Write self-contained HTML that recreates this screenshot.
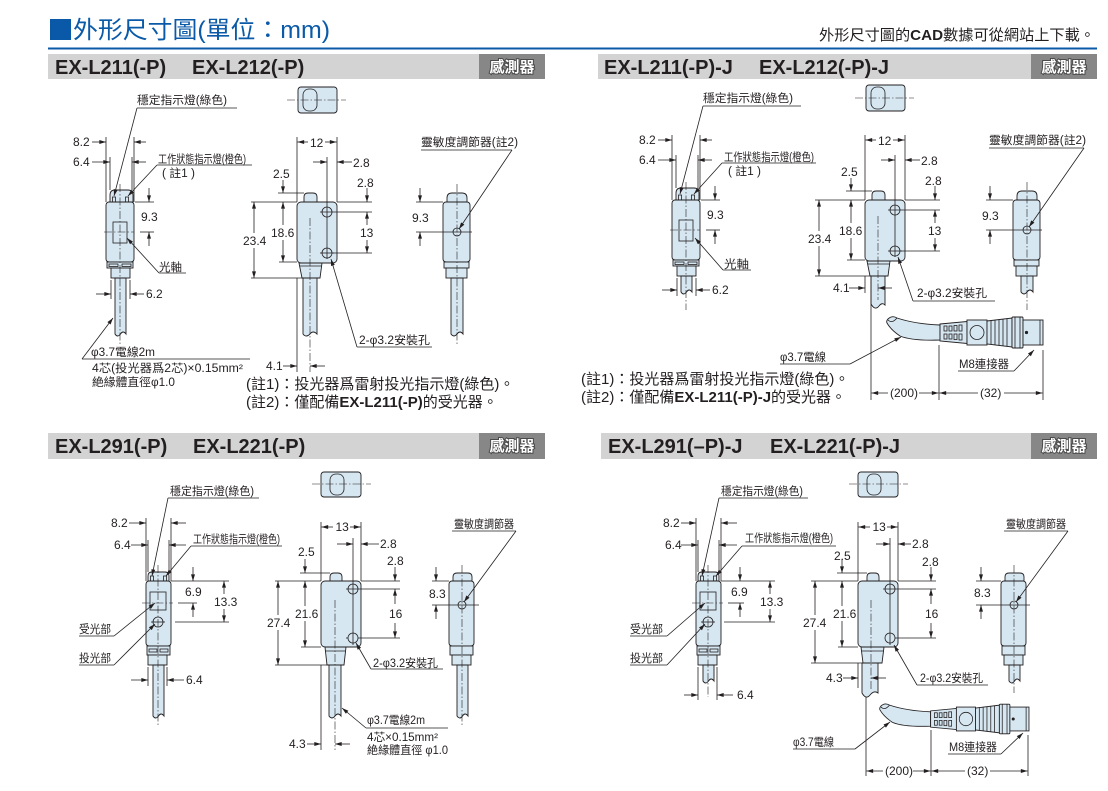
<!DOCTYPE html>
<html><head><meta charset="utf-8">
<style>
html,body{margin:0;padding:0;background:#fff;}
svg{display:block;}
text{font-family:"Liberation Sans","Noto Sans CJK TC",sans-serif;fill:#231f20;}
.n{font-size:12px;}
.k{font-size:11.5px;}
.l{stroke:#231f20;stroke-width:0.8;fill:none;}
.ar{marker-end:url(#a);}
.b{fill:#d6e7f1;stroke:#231f20;stroke-width:0.9;}
.c{stroke:#231f20;stroke-width:0.6;fill:none;stroke-dasharray:8 2 1.5 2;}
.hd{font-size:20px;font-weight:bold;}
.lb{font-size:15px;font-weight:bold;fill:#fff;stroke:#4a4a4a;stroke-width:2;paint-order:stroke;}
</style></head><body>
<svg width="1108" height="791" viewBox="0 0 1108 791" xmlns="http://www.w3.org/2000/svg">
<defs>
<marker id="a" viewBox="0 0 10 6" refX="10" refY="3" markerWidth="8" markerHeight="4" orient="auto" markerUnits="userSpaceOnUse"><path d="M0,0L10,3L0,6z" fill="#231f20"/></marker>
</defs>

<!-- ===== Page header ===== -->
<rect x="50" y="19" width="21" height="21" fill="#0a58a8"/>
<text x="73" y="38" font-size="24" style="fill:#0a5aa8" textLength="257" lengthAdjust="spacingAndGlyphs">外形尺寸圖(單位：mm)</text>
<text x="819" y="40" font-size="15" textLength="276" lengthAdjust="spacingAndGlyphs">外形尺寸圖的<tspan font-weight="bold">CAD</tspan>數據可從網站上下載。</text>
<rect x="48" y="47.5" width="1049" height="2" fill="#0a5aa8"/>

<!-- ===== Section headers ===== -->
<rect x="48" y="54" width="497" height="25" fill="#d3d3d3"/>
<rect x="479" y="54" width="66" height="25" fill="#878787"/>
<text class="hd" x="55" y="74">EX-L211(-P)</text>
<text class="hd" x="192" y="74">EX-L212(-P)</text>
<text class="lb" x="512" y="72" text-anchor="middle">感測器</text>

<rect x="598" y="54" width="499" height="25" fill="#d3d3d3"/>
<rect x="1031" y="54" width="66" height="25" fill="#878787"/>
<text class="hd" x="604" y="74">EX-L211(-P)-J</text>
<text class="hd" x="759" y="74">EX-L212(-P)-J</text>
<text class="lb" x="1064" y="72" text-anchor="middle">感測器</text>

<rect x="48" y="433" width="497" height="26" fill="#d3d3d3"/>
<rect x="479" y="433" width="66" height="26" fill="#878787"/>
<text class="hd" x="55" y="453">EX-L291(-P)</text>
<text class="hd" x="193" y="453">EX-L221(-P)</text>
<text class="lb" x="512" y="451" text-anchor="middle">感測器</text>

<rect x="601" y="433" width="496" height="26" fill="#d3d3d3"/>
<rect x="1031" y="433" width="66" height="26" fill="#878787"/>
<text class="hd" x="608" y="453">EX-L291(–P)-J</text>
<text class="hd" x="770" y="453">EX-L221(-P)-J</text>
<text class="lb" x="1064" y="451" text-anchor="middle">感測器</text>

<!-- ================= PANEL 1 ================= -->
<!-- left sensor -->
<path class="b" d="M110,202V195Q110,190 115,190H128Q133,190 133,195V202Z"/>
<rect class="l" x="112.5" y="197" width="3" height="5"/>
<rect class="l" x="125.5" y="197" width="3" height="5"/>
<rect class="b" x="106" y="202" width="28" height="60" rx="3"/>
<rect class="l" x="113" y="222" width="14" height="21"/>
<rect class="b" x="107" y="262" width="26" height="6"/>
<rect class="l" x="109" y="264" width="9" height="2.5"/>
<rect class="l" x="122" y="264" width="9" height="2.5"/>
<rect class="b" x="111" y="268" width="19" height="10"/>
<path class="b" d="M115,278V334Q117.5,338 120.5,334Q123,330 126,334V278Z"/>
<line class="c" x1="120" y1="184" x2="120" y2="345"/>
<line class="c" x1="104" y1="232" x2="134" y2="232"/>
<line class="l" x1="106" y1="137" x2="106" y2="202"/>
<line class="l" x1="134" y1="137" x2="134" y2="202"/>
<line class="l ar" x1="92" y1="142" x2="106" y2="142"/>
<line class="l ar" x1="146" y1="142" x2="134" y2="142"/>
<text class="n" x="73" y="146">8.2</text>
<line class="l" x1="110" y1="157" x2="110" y2="190"/>
<line class="l" x1="132" y1="157" x2="132" y2="190"/>
<line class="l ar" x1="92" y1="162" x2="110" y2="162"/>
<line class="l ar" x1="146" y1="162" x2="132" y2="162"/>
<text class="n" x="73" y="166">6.4</text>
<line class="l" x1="135" y1="202" x2="154" y2="202"/>
<line class="l" x1="140" y1="232" x2="154" y2="232"/>
<line class="l ar" x1="149" y1="188" x2="149" y2="202"/>
<line class="l ar" x1="149" y1="246" x2="149" y2="232"/>
<text class="n" x="141" y="221">9.3</text>
<line class="l" x1="111" y1="280" x2="111" y2="299"/>
<line class="l" x1="130" y1="280" x2="130" y2="299"/>
<line class="l ar" x1="96" y1="294" x2="111" y2="294"/>
<line class="l ar" x1="144" y1="294" x2="130" y2="294"/>
<text class="n" x="146" y="298">6.2</text>
<text class="k" x="137" y="104" textLength="90" lengthAdjust="spacingAndGlyphs">穩定指示燈(綠色)</text>
<line class="l" x1="137" y1="108" x2="237" y2="108"/>
<line class="l ar" x1="137" y1="108" x2="114" y2="196"/>
<text class="k" x="158" y="163" font-size="11" textLength="88" lengthAdjust="spacingAndGlyphs">工作狀態指示燈(橙色)</text>
<text class="k" x="162" y="177" textLength="33" lengthAdjust="spacingAndGlyphs">( 註1 )</text>
<line class="l" x1="157" y1="165" x2="252" y2="165"/>
<line class="l ar" x1="157" y1="165" x2="128" y2="196"/>
<text class="k" x="159" y="271" textLength="23" lengthAdjust="spacingAndGlyphs">光軸</text>
<line class="l" x1="159" y1="273" x2="186" y2="273"/>
<line class="l ar" x1="159" y1="273" x2="127" y2="238"/>
<text class="k" x="91" y="356" textLength="64" lengthAdjust="spacingAndGlyphs">φ3.7電線2m</text>
<line class="l" x1="82" y1="359" x2="250" y2="359"/>
<line class="l ar" x1="82" y1="359" x2="113" y2="318"/>
<text class="k" x="92" y="372" textLength="151" lengthAdjust="spacingAndGlyphs">4芯(投光器爲2芯)×0.15mm²</text>
<text class="k" x="92" y="386" textLength="83" lengthAdjust="spacingAndGlyphs">絶緣體直徑φ1.0</text>

<!-- front view -->
<rect class="b" x="298" y="87" width="39" height="26" rx="3"/>
<rect class="l" x="303" y="89" width="14" height="22" rx="6"/>
<line class="c" x1="287" y1="100" x2="346" y2="100"/>
<path class="b" d="M304,202V197Q304,193 308,193H313Q317,193 317,197V202Z"/>
<rect class="b" x="297" y="202" width="40" height="61" rx="4"/>
<circle class="l" cx="327" cy="212" r="5"/>
<circle class="l" cx="327" cy="253" r="5"/>
<line class="l" x1="327" y1="157" x2="327" y2="259"/>
<line class="l" x1="320" y1="253" x2="334" y2="253"/>
<path class="b" d="M299,263H322L320,278H302Z"/>
<line class="l" x1="299.5" y1="266" x2="321.5" y2="266"/>
<path class="b" d="M303,278V334Q306,338 310,334Q313,330 317,334V278Z"/>
<line class="c" x1="310" y1="218" x2="310" y2="372"/>
<line class="l" x1="297" y1="137" x2="297" y2="202"/>
<line class="l" x1="337" y1="137" x2="337" y2="202"/>
<line class="l ar" x1="308" y1="142" x2="297.5" y2="142"/>
<line class="l ar" x1="325" y1="142" x2="336.5" y2="142"/>
<text class="n" x="310" y="147">12</text>
<line class="l ar" x1="313" y1="162" x2="327" y2="162"/>
<line class="l ar" x1="352" y1="162" x2="337" y2="162"/>
<text class="n" x="353" y="167">2.8</text>
<line class="l ar" x1="283" y1="180" x2="283" y2="193"/>
<line class="l" x1="278" y1="193" x2="304" y2="193"/>
<text class="n" x="273" y="178">2.5</text>
<line class="l" x1="251" y1="202" x2="297" y2="202"/>
<line class="l ar" x1="283" y1="225" x2="283" y2="202"/>
<line class="l ar" x1="283" y1="240" x2="283" y2="262"/>
<line class="l" x1="279" y1="262" x2="297" y2="262"/>
<text class="n" x="271" y="237">18.6</text>
<line class="l ar" x1="254" y1="233" x2="254" y2="202"/>
<line class="l ar" x1="254" y1="248" x2="254" y2="278"/>
<line class="l" x1="251" y1="278" x2="302" y2="278"/>
<text class="n" x="243" y="245">23.4</text>
<line class="l" x1="337" y1="202" x2="372" y2="202"/>
<line class="l ar" x1="367" y1="188" x2="367" y2="202"/>
<text class="n" x="357" y="187">2.8</text>
<line class="l" x1="320" y1="212" x2="372" y2="212"/>
<line class="l" x1="333" y1="253" x2="372" y2="253"/>
<line class="l ar" x1="367" y1="225" x2="367" y2="212"/>
<line class="l ar" x1="367" y1="240" x2="367" y2="253"/>
<text class="n" x="360" y="237">13</text>
<line class="l" x1="297" y1="278" x2="297" y2="372"/>
<line class="l ar" x1="283" y1="366" x2="297" y2="366"/>
<line class="l ar" x1="325" y1="366" x2="310" y2="366"/>
<text class="n" x="266" y="370">4.1</text>
<text class="k" x="359" y="344" textLength="71" lengthAdjust="spacingAndGlyphs">2-φ3.2安裝孔</text>
<line class="l" x1="357" y1="347" x2="432" y2="347"/>
<line class="l ar" x1="357" y1="347" x2="331" y2="259"/>

<!-- side view -->
<path class="b" d="M447,202V198Q447,193 452,193H462Q467,193 467,198V202Z"/>
<rect class="b" x="443" y="202" width="27" height="60" rx="3"/>
<rect class="b" x="444" y="262" width="25" height="6"/>
<rect class="b" x="446" y="268" width="21" height="10"/>
<path class="b" d="M451,278V334Q454,338 457,334Q460,330 463,334V278Z"/>
<circle class="l" cx="457" cy="232" r="4"/>
<line class="c" x1="457" y1="184" x2="457" y2="345"/>
<line class="l" x1="416" y1="202" x2="443" y2="202"/>
<line class="l" x1="416" y1="232" x2="472" y2="232"/>
<line class="l ar" x1="420" y1="188" x2="420" y2="202"/>
<line class="l ar" x1="420" y1="246" x2="420" y2="232"/>
<text class="n" x="412" y="222">9.3</text>
<text class="k" x="421" y="146" textLength="97" lengthAdjust="spacingAndGlyphs">靈敏度調節器(註2)</text>
<line class="l" x1="421" y1="150" x2="512" y2="150"/>
<line class="l ar" x1="512" y1="150" x2="459" y2="229"/>

<text x="246" y="389" font-size="15">(註1)：投光器爲雷射投光指示燈(綠色)。</text>
<text x="246" y="407" font-size="15">(註2)：僅配備<tspan font-weight="bold">EX-L211(-P)</tspan>的受光器。</text>

<!-- ================= PANEL 2 ================= -->
<g transform="translate(566,-2)">
<path class="b" d="M110,202V195Q110,190 115,190H128Q133,190 133,195V202Z"/>
<rect class="l" x="112.5" y="197" width="3" height="5"/>
<rect class="l" x="125.5" y="197" width="3" height="5"/>
<rect class="b" x="106" y="202" width="28" height="60" rx="3"/>
<rect class="l" x="113" y="222" width="14" height="21"/>
<rect class="b" x="107" y="262" width="26" height="6"/>
<rect class="l" x="109" y="264" width="9" height="2.5"/>
<rect class="l" x="122" y="264" width="9" height="2.5"/>
<rect class="b" x="111" y="268" width="19" height="10"/>
<path class="b" d="M115,278V294Q117.5,298 120.5,294Q123,290 126,294V278Z"/>
<line class="c" x1="120" y1="184" x2="120" y2="312"/>
<line class="c" x1="104" y1="232" x2="134" y2="232"/>
<line class="l" x1="106" y1="137" x2="106" y2="202"/>
<line class="l" x1="134" y1="137" x2="134" y2="202"/>
<line class="l ar" x1="92" y1="142" x2="106" y2="142"/>
<line class="l ar" x1="146" y1="142" x2="134" y2="142"/>
<text class="n" x="73" y="146">8.2</text>
<line class="l" x1="110" y1="157" x2="110" y2="190"/>
<line class="l" x1="132" y1="157" x2="132" y2="190"/>
<line class="l ar" x1="92" y1="162" x2="110" y2="162"/>
<line class="l ar" x1="146" y1="162" x2="132" y2="162"/>
<text class="n" x="73" y="166">6.4</text>
<line class="l" x1="135" y1="202" x2="154" y2="202"/>
<line class="l" x1="140" y1="232" x2="154" y2="232"/>
<line class="l ar" x1="149" y1="188" x2="149" y2="202"/>
<line class="l ar" x1="149" y1="246" x2="149" y2="232"/>
<text class="n" x="141" y="221">9.3</text>
<line class="l" x1="111" y1="280" x2="111" y2="298"/>
<line class="l" x1="130" y1="280" x2="130" y2="298"/>
<line class="l ar" x1="96" y1="292" x2="111" y2="292"/>
<line class="l ar" x1="144" y1="292" x2="130" y2="292"/>
<text class="n" x="146" y="296">6.2</text>
<text class="k" x="137" y="104" textLength="90" lengthAdjust="spacingAndGlyphs">穩定指示燈(綠色)</text>
<line class="l" x1="137" y1="108" x2="235" y2="108"/>
<line class="l ar" x1="137" y1="108" x2="114" y2="196"/>
<text class="k" x="158" y="163" font-size="11" textLength="90" lengthAdjust="spacingAndGlyphs">工作狀態指示燈(橙色)</text>
<text class="k" x="162" y="177" textLength="33" lengthAdjust="spacingAndGlyphs">( 註1 )</text>
<line class="l" x1="156" y1="165" x2="250" y2="165"/>
<line class="l ar" x1="156" y1="165" x2="128" y2="196"/>
<text class="k" x="158" y="270" textLength="25" lengthAdjust="spacingAndGlyphs">光軸</text>
<line class="l" x1="157" y1="272" x2="185" y2="272"/>
<line class="l ar" x1="157" y1="272" x2="129" y2="240"/>
</g>

<g transform="translate(568,-2)">
<rect class="b" x="298" y="87" width="39" height="26" rx="3"/>
<rect class="l" x="303" y="89" width="14" height="22" rx="6"/>
<line class="c" x1="287" y1="100" x2="346" y2="100"/>
<path class="b" d="M304,202V197Q304,193 308,193H313Q317,193 317,197V202Z"/>
<rect class="b" x="297" y="202" width="40" height="61" rx="4"/>
<circle class="l" cx="327" cy="212" r="5"/>
<circle class="l" cx="327" cy="253" r="5"/>
<line class="l" x1="327" y1="157" x2="327" y2="259"/>
<line class="l" x1="320" y1="253" x2="334" y2="253"/>
<path class="b" d="M299,263H322L320,278H302Z"/>
<line class="l" x1="299.5" y1="266" x2="321.5" y2="266"/>
<line class="l" x1="297" y1="137" x2="297" y2="202"/>
<line class="l" x1="337" y1="137" x2="337" y2="202"/>
<line class="l ar" x1="308" y1="142" x2="297.5" y2="142"/>
<line class="l ar" x1="325" y1="142" x2="336.5" y2="142"/>
<text class="n" x="310" y="147">12</text>
<line class="l ar" x1="313" y1="162" x2="327" y2="162"/>
<line class="l ar" x1="352" y1="162" x2="337" y2="162"/>
<text class="n" x="353" y="167">2.8</text>
<line class="l ar" x1="283" y1="180" x2="283" y2="193"/>
<line class="l" x1="278" y1="193" x2="304" y2="193"/>
<text class="n" x="273" y="178">2.5</text>
<line class="l" x1="247" y1="202" x2="297" y2="202"/>
<line class="l ar" x1="283" y1="225" x2="283" y2="202"/>
<line class="l ar" x1="283" y1="240" x2="283" y2="262"/>
<line class="l" x1="279" y1="262" x2="297" y2="262"/>
<text class="n" x="271" y="237">18.6</text>
<line class="l ar" x1="251" y1="233" x2="251" y2="202"/>
<line class="l ar" x1="251" y1="248" x2="251" y2="278"/>
<line class="l" x1="247" y1="278" x2="302" y2="278"/>
<text class="n" x="240" y="245">23.4</text>
<line class="l" x1="337" y1="202" x2="372" y2="202"/>
<line class="l ar" x1="367" y1="188" x2="367" y2="202"/>
<text class="n" x="357" y="187">2.8</text>
<line class="l" x1="320" y1="212" x2="372" y2="212"/>
<line class="l" x1="333" y1="253" x2="372" y2="253"/>
<line class="l ar" x1="367" y1="225" x2="367" y2="212"/>
<line class="l ar" x1="367" y1="240" x2="367" y2="253"/>
<text class="n" x="360" y="237">13</text>
</g>
<path class="b" d="M871,276V304Q875,311 879,306Q882,302 885,305V276Z"/>
<line class="c" x1="878" y1="216" x2="878" y2="300"/>
<line class="l" x1="871" y1="276" x2="871" y2="400"/>
<line class="l" x1="865" y1="276" x2="865" y2="293"/>
<line class="l ar" x1="849" y1="288" x2="865" y2="288"/>
<line class="l ar" x1="892" y1="288" x2="878" y2="288"/>
<text class="n" x="833" y="292">4.1</text>
<text class="k" x="917" y="297" textLength="70" lengthAdjust="spacingAndGlyphs">2-φ3.2安裝孔</text>
<line class="l" x1="913" y1="301" x2="995" y2="301"/>
<line class="l ar" x1="913" y1="301" x2="898" y2="257"/>

<!-- connector P2 -->
<g id="conn">
<path class="b" d="M888,319Q892,315 897,318Q915,324 940,325L940,340Q912,341 900,336Q891,330 887,323Q886,321 888,319Z"/>
<path class="l" d="M888,320Q892,324 897,318"/>
<path class="b" d="M940,324L967,321.5L967,343.5L940,341Z"/>
<rect class="l" x="944" y="326" width="3" height="5"/>
<rect class="l" x="949" y="326" width="3" height="5"/>
<rect class="l" x="954" y="325.5" width="3" height="5.5"/>
<rect class="l" x="959" y="325" width="3" height="6"/>
<rect class="l" x="944" y="334" width="3" height="5"/>
<rect class="l" x="949" y="334" width="3" height="5"/>
<rect class="l" x="954" y="334" width="3" height="5.5"/>
<rect class="l" x="959" y="334" width="3" height="6"/>
<rect class="b" x="967" y="320" width="20" height="25"/>
<circle class="l" cx="977" cy="332.5" r="7"/>
<path class="b" d="M987,321L1012,318L1012,347L987,344Z"/>
<line class="l" x1="991" y1="320.5" x2="991" y2="344.5"/>
<line class="l" x1="995" y1="320" x2="995" y2="345"/>
<line class="l" x1="999" y1="319.5" x2="999" y2="345.5"/>
<line class="l" x1="1003" y1="319" x2="1003" y2="346"/>
<line class="l" x1="1007" y1="318.5" x2="1007" y2="346.5"/>
<rect class="b" x="1012" y="317" width="11" height="31" rx="1"/>
<line class="l" x1="1015" y1="317" x2="1015" y2="348"/>
<line class="l" x1="1020" y1="317" x2="1020" y2="348"/>
<rect class="b" x="1023" y="320" width="20" height="25"/>
<line class="l" x1="1040" y1="320" x2="1040" y2="345"/>
<circle cx="1026.5" cy="332.5" r="1.6" fill="#231f20"/>
</g>
<text class="k" x="780" y="361" textLength="46" lengthAdjust="spacingAndGlyphs">φ3.7電線</text>
<line class="l" x1="780" y1="364" x2="850" y2="364"/>
<line class="l ar" x1="850" y1="364" x2="901" y2="337"/>
<text class="k" x="959" y="368" textLength="50" lengthAdjust="spacingAndGlyphs">M8連接器</text>
<line class="l" x1="958" y1="371" x2="1014" y2="371"/>
<line class="l ar" x1="1014" y1="371" x2="1034" y2="350"/>
<line class="l" x1="939" y1="345" x2="939" y2="400"/>
<line class="l" x1="1043" y1="350" x2="1043" y2="400"/>
<line class="l ar" x1="888" y1="393" x2="871.5" y2="393"/>
<line class="l ar" x1="919" y1="393" x2="938.5" y2="393"/>
<line class="l ar" x1="978" y1="393" x2="939.5" y2="393"/>
<line class="l ar" x1="1004" y1="393" x2="1042.5" y2="393"/>
<text class="n" x="890" y="397">(200)</text>
<text class="n" x="980" y="397">(32)</text>

<g transform="translate(570,-2)">
<path class="b" d="M447,202V198Q447,193 452,193H462Q467,193 467,198V202Z"/>
<rect class="b" x="443" y="202" width="27" height="60" rx="3"/>
<rect class="b" x="444" y="262" width="25" height="6"/>
<rect class="b" x="446" y="268" width="21" height="10"/>
<path class="b" d="M451,278V294Q454,298 457,294Q460,290 463,294V278Z"/>
<circle class="l" cx="457" cy="232" r="4"/>
<line class="c" x1="457" y1="184" x2="457" y2="312"/>
<line class="l" x1="416" y1="202" x2="443" y2="202"/>
<line class="l" x1="416" y1="232" x2="472" y2="232"/>
<line class="l ar" x1="420" y1="188" x2="420" y2="202"/>
<line class="l ar" x1="420" y1="246" x2="420" y2="232"/>
<text class="n" x="412" y="222">9.3</text>
<text class="k" x="419" y="146" textLength="97" lengthAdjust="spacingAndGlyphs">靈敏度調節器(註2)</text>
<line class="l" x1="419" y1="150" x2="514" y2="150"/>
<line class="l ar" x1="514" y1="150" x2="459" y2="229"/>
</g>

<text x="581" y="384" font-size="15">(註1)：投光器爲雷射投光指示燈(綠色)。</text>
<text x="581" y="402" font-size="15">(註2)：僅配備<tspan font-weight="bold">EX-L211(-P)-J</tspan>的受光器。</text>

<!-- ================= PANEL 3 ================= -->
<path class="b" d="M148,581V576Q148,572 152,572H165Q169,572 169,576V581Z"/>
<rect class="l" x="150.5" y="576" width="3" height="5"/>
<rect class="l" x="163.5" y="576" width="3" height="5"/>
<rect class="b" x="146" y="581" width="25" height="65" rx="3"/>
<rect class="l" x="150" y="592" width="16" height="18"/>
<circle class="l" cx="158" cy="622" r="5"/>
<rect class="b" x="147" y="646" width="23" height="9"/>
<rect class="l" x="149" y="649" width="8" height="3"/>
<rect class="l" x="160" y="649" width="8" height="3"/>
<rect class="b" x="148" y="655" width="19" height="10"/>
<path class="b" d="M153,665V716Q155.5,720 158.5,716Q161,712 164,716V665Z"/>
<line class="c" x1="158" y1="565" x2="158" y2="726"/>
<line class="c" x1="142" y1="603" x2="173" y2="603"/>
<line class="l" x1="151" y1="622" x2="165" y2="622"/>
<line class="l" x1="146" y1="518" x2="146" y2="581"/>
<line class="l" x1="171" y1="518" x2="171" y2="581"/>
<line class="l ar" x1="129" y1="523" x2="146" y2="523"/>
<line class="l ar" x1="186" y1="523" x2="171" y2="523"/>
<text class="n" x="111" y="527">8.2</text>
<line class="l" x1="148" y1="540" x2="148" y2="572"/>
<line class="l" x1="169" y1="540" x2="169" y2="572"/>
<line class="l ar" x1="131" y1="545" x2="148" y2="545"/>
<line class="l ar" x1="186" y1="545" x2="169" y2="545"/>
<text class="n" x="114" y="549">6.4</text>
<line class="l" x1="171" y1="581" x2="229" y2="581"/>
<line class="l ar" x1="193" y1="567" x2="193" y2="581"/>
<line class="l" x1="178" y1="603" x2="197" y2="603"/>
<line class="l ar" x1="193" y1="617" x2="193" y2="603"/>
<text class="n" x="185" y="596">6.9</text>
<line class="l ar" x1="224" y1="594" x2="224" y2="581"/>
<line class="l ar" x1="224" y1="609" x2="224" y2="622"/>
<line class="l" x1="175" y1="622" x2="229" y2="622"/>
<text class="n" x="214" y="606">13.3</text>
<line class="l" x1="148" y1="667" x2="148" y2="686"/>
<line class="l" x1="167" y1="667" x2="167" y2="686"/>
<line class="l ar" x1="131" y1="680" x2="148" y2="680"/>
<line class="l ar" x1="184" y1="680" x2="167" y2="680"/>
<text class="n" x="186" y="684">6.4</text>
<text class="k" x="170" y="495" textLength="84" lengthAdjust="spacingAndGlyphs">穩定指示燈(綠色)</text>
<line class="l" x1="168" y1="498" x2="259" y2="498"/>
<line class="l ar" x1="168" y1="498" x2="152" y2="576"/>
<text class="k" x="193" y="543" font-size="11" textLength="87" lengthAdjust="spacingAndGlyphs">工作狀態指示燈(橙色)</text>
<line class="l" x1="191" y1="546" x2="282" y2="546"/>
<line class="l ar" x1="191" y1="546" x2="166" y2="576"/>
<text class="k" x="79" y="633" textLength="32" lengthAdjust="spacingAndGlyphs">受光部</text>
<line class="l" x1="79" y1="636" x2="114" y2="636"/>
<line class="l ar" x1="114" y1="636" x2="155" y2="603"/>
<text class="k" x="79" y="662" textLength="32" lengthAdjust="spacingAndGlyphs">投光部</text>
<line class="l" x1="79" y1="665" x2="114" y2="665"/>
<line class="l ar" x1="114" y1="665" x2="155" y2="624"/>

<!-- front P3 -->
<rect class="b" x="321" y="472" width="40" height="25" rx="3"/>
<rect class="l" x="330" y="474" width="14" height="21" rx="6"/>
<line class="c" x1="312" y1="484" x2="371" y2="484"/>
<path class="b" d="M330,581V577Q330,573 334,573H338Q342,573 342,577V581Z"/>
<rect class="b" x="321" y="581" width="40" height="66" rx="4"/>
<circle class="l" cx="353" cy="589" r="5"/>
<circle class="l" cx="353" cy="638" r="5"/>
<line class="l" x1="353" y1="538" x2="353" y2="645"/>
<path class="b" d="M325,647H346L344,665H327Z"/>
<line class="l" x1="325.5" y1="651" x2="345.5" y2="651"/>
<path class="b" d="M329,665V716Q332,720 335,716Q338,712 341,716V665Z"/>
<line class="c" x1="335" y1="600" x2="335" y2="750"/>
<line class="l" x1="321" y1="522" x2="321" y2="581"/>
<line class="l" x1="361" y1="522" x2="361" y2="581"/>
<line class="l ar" x1="333" y1="527" x2="321.5" y2="527"/>
<line class="l ar" x1="350" y1="527" x2="360.5" y2="527"/>
<text class="n" x="335.5" y="531">13</text>
<line class="l ar" x1="337" y1="544" x2="353" y2="544"/>
<line class="l ar" x1="379" y1="544" x2="361" y2="544"/>
<text class="n" x="380" y="548">2.8</text>
<line class="l ar" x1="305" y1="559" x2="305" y2="573"/>
<line class="l" x1="300" y1="573" x2="330" y2="573"/>
<text class="n" x="298" y="556">2.5</text>
<line class="l" x1="361" y1="581" x2="400" y2="581"/>
<line class="l ar" x1="395" y1="567" x2="395" y2="581"/>
<text class="n" x="387" y="565">2.8</text>
<line class="l" x1="346" y1="589" x2="400" y2="589"/>
<line class="l" x1="358" y1="638" x2="400" y2="638"/>
<line class="l" x1="346" y1="638" x2="348" y2="638"/>
<line class="l ar" x1="395" y1="604" x2="395" y2="589"/>
<line class="l ar" x1="395" y1="623" x2="395" y2="638"/>
<text class="n" x="389" y="618">16</text>
<line class="l" x1="275" y1="581" x2="321" y2="581"/>
<line class="l ar" x1="305" y1="606" x2="305" y2="581"/>
<line class="l ar" x1="305" y1="621" x2="305" y2="647"/>
<line class="l" x1="301" y1="647" x2="321" y2="647"/>
<text class="n" x="295" y="618">21.6</text>
<line class="l ar" x1="278" y1="615" x2="278" y2="581"/>
<line class="l ar" x1="278" y1="630" x2="278" y2="665"/>
<line class="l" x1="275" y1="665" x2="327" y2="665"/>
<text class="n" x="267" y="627">27.4</text>
<line class="l" x1="321" y1="665" x2="321" y2="750"/>
<line class="l ar" x1="307" y1="744" x2="321" y2="744"/>
<line class="l ar" x1="350" y1="744" x2="335" y2="744"/>
<text class="n" x="289" y="748">4.3</text>
<text class="k" x="373" y="667" textLength="65" lengthAdjust="spacingAndGlyphs">2-φ3.2安裝孔</text>
<line class="l" x1="371" y1="669" x2="443" y2="669"/>
<line class="l ar" x1="371" y1="669" x2="356" y2="643"/>
<text class="k" x="367" y="724" textLength="58" lengthAdjust="spacingAndGlyphs">φ3.7電線2m</text>
<line class="l" x1="366" y1="728" x2="448" y2="728"/>
<line class="l ar" x1="366" y1="728" x2="342" y2="708"/>
<text class="k" x="367" y="741" textLength="71" lengthAdjust="spacingAndGlyphs">4芯×0.15mm²</text>
<text class="k" x="367" y="754" textLength="81" lengthAdjust="spacingAndGlyphs">絶緣體直徑 φ1.0</text>

<!-- side P3 -->
<path class="b" d="M453,581V577Q453,573 457,573H468Q472,573 472,577V581Z"/>
<rect class="b" x="449" y="581" width="25" height="65" rx="3"/>
<rect class="b" x="450" y="646" width="23" height="9"/>
<rect class="b" x="452" y="655" width="19" height="10"/>
<path class="b" d="M457,665V716Q460,720 462.5,716Q465,712 468,716V665Z"/>
<circle class="l" cx="462" cy="605" r="4"/>
<line class="c" x1="462" y1="565" x2="462" y2="726"/>
<line class="l" x1="432" y1="581" x2="449" y2="581"/>
<line class="l" x1="432" y1="605" x2="479" y2="605"/>
<line class="l ar" x1="436" y1="567" x2="436" y2="581"/>
<line class="l ar" x1="436" y1="619" x2="436" y2="605"/>
<text class="n" x="429" y="598">8.3</text>
<text class="k" x="454" y="528" textLength="60" lengthAdjust="spacingAndGlyphs">靈敏度調節器</text>
<line class="l" x1="452" y1="531" x2="516" y2="531"/>
<line class="l ar" x1="516" y1="531" x2="464" y2="602"/>

<!-- ================= PANEL 4 ================= -->
<g transform="translate(550,0)">
<path class="b" d="M148,581V576Q148,572 152,572H165Q169,572 169,576V581Z"/>
<rect class="l" x="150.5" y="576" width="3" height="5"/>
<rect class="l" x="163.5" y="576" width="3" height="5"/>
<rect class="b" x="146" y="581" width="25" height="65" rx="3"/>
<rect class="l" x="150" y="592" width="16" height="18"/>
<circle class="l" cx="158" cy="622" r="5"/>
<rect class="b" x="147" y="646" width="23" height="9"/>
<rect class="l" x="149" y="649" width="8" height="3"/>
<rect class="l" x="160" y="649" width="8" height="3"/>
<rect class="b" x="148" y="655" width="19" height="10"/>
<path class="b" d="M153,665V681Q155.5,685 158.5,681Q161,677 164,681V665Z"/>
<line class="c" x1="158" y1="565" x2="158" y2="697"/>
<line class="c" x1="142" y1="603" x2="173" y2="603"/>
<line class="l" x1="151" y1="622" x2="165" y2="622"/>
<line class="l" x1="146" y1="518" x2="146" y2="581"/>
<line class="l" x1="171" y1="518" x2="171" y2="581"/>
<line class="l ar" x1="131" y1="523" x2="146" y2="523"/>
<line class="l ar" x1="187" y1="523" x2="171" y2="523"/>
<text class="n" x="113" y="527">8.2</text>
<line class="l" x1="148" y1="540" x2="148" y2="572"/>
<line class="l" x1="169" y1="540" x2="169" y2="572"/>
<line class="l ar" x1="131" y1="545" x2="148" y2="545"/>
<line class="l ar" x1="187" y1="545" x2="169" y2="545"/>
<text class="n" x="115" y="549">6.4</text>
</g>
<line class="l" x1="721" y1="581" x2="775" y2="581"/>
<line class="l ar" x1="740" y1="567" x2="740" y2="581"/>
<line class="l" x1="728" y1="603" x2="744" y2="603"/>
<line class="l ar" x1="740" y1="617" x2="740" y2="603"/>
<text class="n" x="731" y="596">6.9</text>
<line class="l ar" x1="770" y1="594" x2="770" y2="581"/>
<line class="l ar" x1="770" y1="609" x2="770" y2="622"/>
<line class="l" x1="724" y1="622" x2="775" y2="622"/>
<text class="n" x="760" y="606">13.3</text>
<line class="l" x1="698" y1="667" x2="698" y2="700"/>
<line class="l" x1="717" y1="667" x2="717" y2="700"/>
<line class="l ar" x1="684" y1="695" x2="698" y2="695"/>
<line class="l ar" x1="733" y1="695" x2="717" y2="695"/>
<text class="n" x="737" y="699">6.4</text>
<text class="k" x="721" y="495" textLength="82" lengthAdjust="spacingAndGlyphs">穩定指示燈(綠色)</text>
<line class="l" x1="719" y1="498" x2="808" y2="498"/>
<line class="l ar" x1="719" y1="498" x2="702" y2="576"/>
<text class="k" x="745" y="542" font-size="11" textLength="88" lengthAdjust="spacingAndGlyphs">工作狀態指示燈(橙色)</text>
<line class="l" x1="742" y1="546" x2="836" y2="546"/>
<line class="l ar" x1="742" y1="546" x2="716" y2="576"/>
<text class="k" x="630" y="633" textLength="33" lengthAdjust="spacingAndGlyphs">受光部</text>
<line class="l" x1="630" y1="636" x2="667" y2="636"/>
<line class="l ar" x1="667" y1="636" x2="705" y2="603"/>
<text class="k" x="630" y="662" textLength="33" lengthAdjust="spacingAndGlyphs">投光部</text>
<line class="l" x1="630" y1="665" x2="667" y2="665"/>
<line class="l ar" x1="667" y1="665" x2="705" y2="624"/>

<g transform="translate(537,0)">
<rect class="b" x="321" y="472" width="40" height="25" rx="3"/>
<rect class="l" x="330" y="474" width="14" height="21" rx="6"/>
<line class="c" x1="312" y1="484" x2="371" y2="484"/>
<path class="b" d="M330,581V577Q330,573 334,573H338Q342,573 342,577V581Z"/>
<rect class="b" x="321" y="581" width="40" height="66" rx="4"/>
<circle class="l" cx="353" cy="589" r="5"/>
<circle class="l" cx="353" cy="638" r="5"/>
<line class="l" x1="353" y1="538" x2="353" y2="645"/>
<path class="b" d="M324,647H347L345,663H326Z"/>
<line class="l" x1="324.5" y1="651" x2="346.5" y2="651"/>
<line class="l" x1="321" y1="522" x2="321" y2="581"/>
<line class="l" x1="361" y1="522" x2="361" y2="581"/>
<line class="l ar" x1="333" y1="527" x2="321.5" y2="527"/>
<line class="l ar" x1="350" y1="527" x2="360.5" y2="527"/>
<text class="n" x="335.5" y="531">13</text>
<line class="l ar" x1="339" y1="544" x2="353" y2="544"/>
<line class="l ar" x1="374" y1="544" x2="361" y2="544"/>
<text class="n" x="375" y="548">2.8</text>
<line class="l ar" x1="305" y1="559" x2="305" y2="573"/>
<line class="l" x1="300" y1="573" x2="330" y2="573"/>
<text class="n" x="297" y="560">2.5</text>
<line class="l" x1="361" y1="581" x2="399" y2="581"/>
<line class="l ar" x1="394" y1="567" x2="394" y2="581"/>
<text class="n" x="385" y="566">2.8</text>
<line class="l" x1="346" y1="589" x2="399" y2="589"/>
<line class="l" x1="358" y1="638" x2="399" y2="638"/>
<line class="l ar" x1="394" y1="604" x2="394" y2="589"/>
<line class="l ar" x1="394" y1="623" x2="394" y2="638"/>
<text class="n" x="388" y="618">16</text>
<line class="l" x1="274" y1="581" x2="321" y2="581"/>
<line class="l ar" x1="305" y1="606" x2="305" y2="581"/>
<line class="l ar" x1="305" y1="621" x2="305" y2="647"/>
<line class="l" x1="301" y1="647" x2="321" y2="647"/>
<text class="n" x="296" y="618">21.6</text>
<line class="l ar" x1="278" y1="615" x2="278" y2="581"/>
<line class="l ar" x1="278" y1="630" x2="278" y2="663"/>
<line class="l" x1="274" y1="663" x2="326" y2="663"/>
<text class="n" x="266" y="627">27.4</text>
</g>
<path class="b" d="M862,663V693Q866,700 870,695Q874,690 878,693V663Z"/>
<line class="c" x1="871" y1="600" x2="871" y2="690"/>
<line class="l" x1="866" y1="697" x2="866" y2="776"/>
<line class="l" x1="858" y1="663" x2="858" y2="688"/>
<line class="l ar" x1="843" y1="678" x2="858" y2="678"/>
<line class="l ar" x1="886" y1="678" x2="871" y2="678"/>
<text class="n" x="826" y="682">4.3</text>
<text class="k" x="920" y="682" textLength="63" lengthAdjust="spacingAndGlyphs">2-φ3.2安裝孔</text>
<line class="l" x1="917" y1="685" x2="988" y2="685"/>
<line class="l ar" x1="917" y1="685" x2="894" y2="645"/>

<g transform="translate(880,719) scale(0.955) translate(-887,-332.5)">
<path class="b" d="M888,319Q892,315 897,318Q915,324 940,325L940,340Q912,341 900,336Q891,330 887,323Q886,321 888,319Z"/>
<path class="l" d="M888,320Q892,324 897,318"/>
<path class="b" d="M940,324L967,321.5L967,343.5L940,341Z"/>
<rect class="l" x="944" y="326" width="3" height="5"/>
<rect class="l" x="949" y="326" width="3" height="5"/>
<rect class="l" x="954" y="325.5" width="3" height="5.5"/>
<rect class="l" x="959" y="325" width="3" height="6"/>
<rect class="l" x="944" y="334" width="3" height="5"/>
<rect class="l" x="949" y="334" width="3" height="5"/>
<rect class="l" x="954" y="334" width="3" height="5.5"/>
<rect class="l" x="959" y="334" width="3" height="6"/>
<rect class="b" x="967" y="320" width="20" height="25"/>
<circle class="l" cx="977" cy="332.5" r="7"/>
<path class="b" d="M987,321L1012,318L1012,347L987,344Z"/>
<line class="l" x1="991" y1="320.5" x2="991" y2="344.5"/>
<line class="l" x1="995" y1="320" x2="995" y2="345"/>
<line class="l" x1="999" y1="319.5" x2="999" y2="345.5"/>
<line class="l" x1="1003" y1="319" x2="1003" y2="346"/>
<line class="l" x1="1007" y1="318.5" x2="1007" y2="346.5"/>
<rect class="b" x="1012" y="317" width="11" height="31" rx="1"/>
<line class="l" x1="1015" y1="317" x2="1015" y2="348"/>
<line class="l" x1="1020" y1="317" x2="1020" y2="348"/>
<rect class="b" x="1023" y="320" width="20" height="25"/>
<line class="l" x1="1040" y1="320" x2="1040" y2="345"/>
<circle cx="1026.5" cy="332.5" r="1.6" fill="#231f20"/>
</g>
<text class="k" x="793" y="746" textLength="41" lengthAdjust="spacingAndGlyphs">φ3.7電線</text>
<line class="l" x1="793" y1="749" x2="855" y2="749"/>
<line class="l ar" x1="855" y1="749" x2="890" y2="722"/>
<text class="k" x="949" y="751" textLength="48" lengthAdjust="spacingAndGlyphs">M8連接器</text>
<line class="l" x1="948" y1="754" x2="1001" y2="754"/>
<line class="l ar" x1="1001" y1="754" x2="1023" y2="733"/>
<line class="l" x1="931" y1="730" x2="931" y2="776"/>
<line class="l" x1="1028" y1="735" x2="1028" y2="776"/>
<line class="l ar" x1="883" y1="771" x2="866.5" y2="771"/>
<line class="l ar" x1="913" y1="771" x2="930.5" y2="771"/>
<line class="l ar" x1="965" y1="771" x2="931.5" y2="771"/>
<line class="l ar" x1="990" y1="771" x2="1027.5" y2="771"/>
<text class="n" x="885" y="775">(200)</text>
<text class="n" x="967" y="775">(32)</text>

<g transform="translate(552,0)">
<path class="b" d="M453,581V577Q453,573 457,573H468Q472,573 472,577V581Z"/>
<rect class="b" x="449" y="581" width="25" height="65" rx="3"/>
<rect class="b" x="450" y="646" width="23" height="9"/>
<rect class="b" x="452" y="655" width="19" height="10"/>
<path class="b" d="M457,665V681Q460,685 462.5,681Q465,677 468,681V665Z"/>
<circle class="l" cx="462" cy="605" r="4"/>
<line class="c" x1="462" y1="565" x2="462" y2="693"/>
<text class="k" x="454" y="528" textLength="60" lengthAdjust="spacingAndGlyphs">靈敏度調節器</text>
<line class="l" x1="452" y1="531" x2="516" y2="531"/>
<line class="l ar" x1="516" y1="531" x2="464" y2="602"/>
</g>
<line class="l" x1="976" y1="581" x2="1001" y2="581"/>
<line class="l" x1="976" y1="605" x2="1030" y2="605"/>
<line class="l ar" x1="981" y1="567" x2="981" y2="581"/>
<line class="l ar" x1="981" y1="619" x2="981" y2="605"/>
<text class="n" x="974" y="597">8.3</text>
</svg>
</body></html>
